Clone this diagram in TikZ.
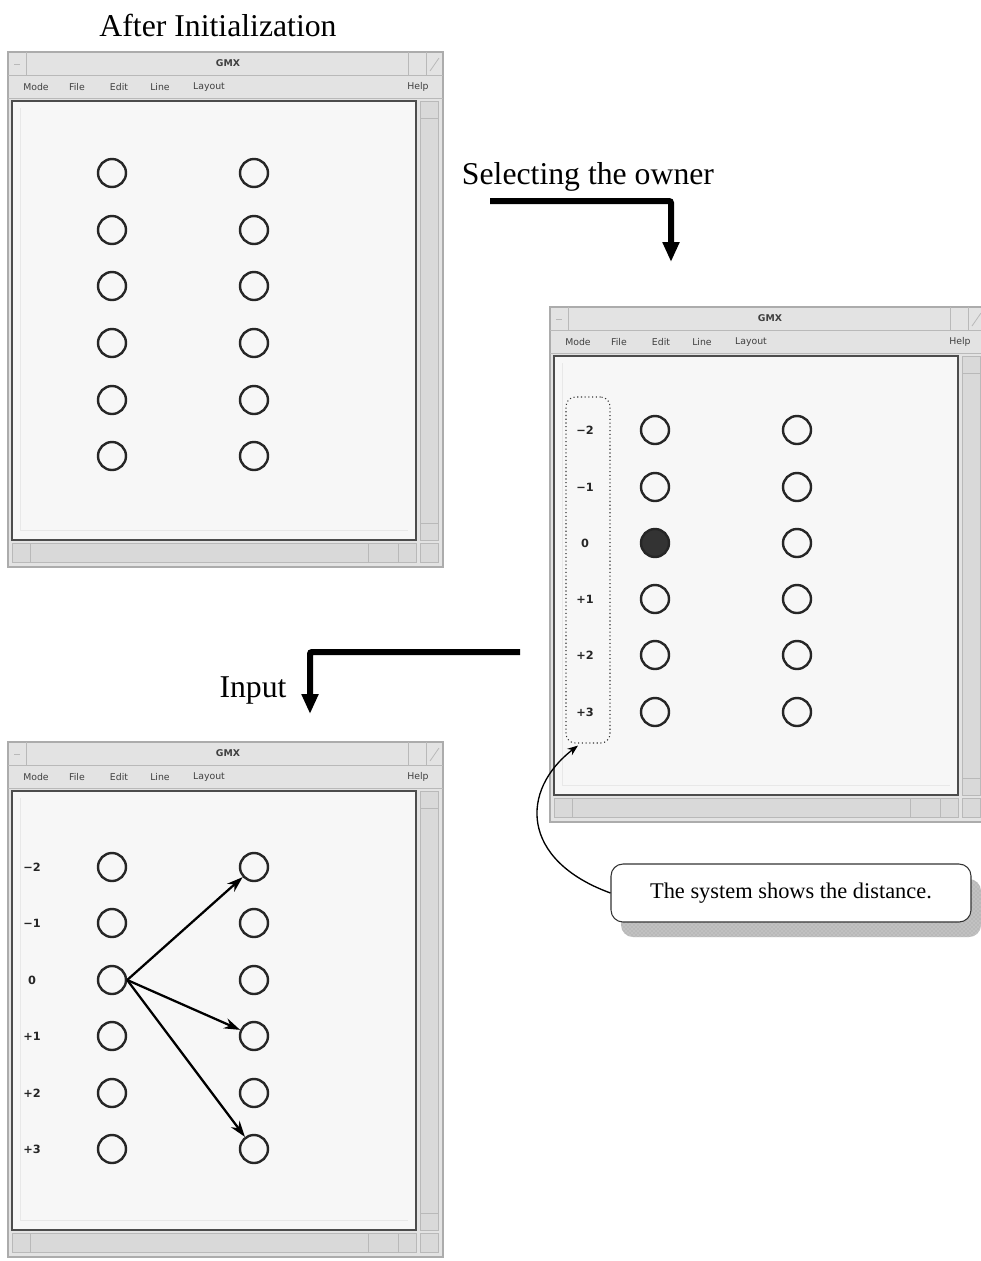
\documentclass[tikz,border=0pt]{standalone}
\usepackage{fontspec}
\setmainfont{Liberation Serif}
\newfontfamily\guifont{DejaVu Sans}
\usetikzlibrary{arrows.meta,patterns,calc}

\tikzset{
  winframe/.style={fill=gray!22, draw=gray!65, line width=0.9pt},
  winsep/.style={draw=gray!55, line width=0.6pt},
  trough/.style={fill=gray!30, draw=gray!55, line width=0.5pt},
  canvasbox/.style={fill=gray!6, draw=black!70, line width=1.6pt},
  menutext/.style={font=\guifont\fontsize{7}{8}\selectfont, text=black!75, inner sep=0pt},
  titletext/.style={font=\guifont\bfseries\fontsize{7}{8}\selectfont, text=black!75, inner sep=0pt},
  distlabel/.style={font=\guifont\bfseries\fontsize{8.5}{9}\selectfont, text=black!85, inner sep=0pt},
  ring/.style={circle, draw=black!85, line width=1.8pt, minimum size=21pt, inner sep=0pt},
  ownerring/.style={ring, fill=black!80},
  caption/.style={font=\fontsize{23.8}{26}\selectfont, inner sep=0pt},
  bigarrow/.style={line width=4.5pt, rounded corners=1.5pt,
    -{Triangle[width=12pt,length=15pt]}},
  linkarrow/.style={line width=1.7pt, -{Stealth[length=12pt,width=8pt]}},
}

% One GMX window: #1 = x of the top left corner, #2 = y of the top left corner
\newcommand\gmxwindow[2]{%
  \begin{scope}[shift={(#1,#2)}]
    \path[winframe] (0,0) rectangle (435,515);
    % title bar
    \path[winsep] (0,23) -- (435,23);
    \path[winsep] (18,0) -- (18,23);
    \path[winsep] (6,12) -- (12,12);
    \path[winsep] (400,0) -- (400,23);
    \path[winsep] (418,0) -- (418,23);
    \path[winsep] (422,19) -- (431,6);
    \node[titletext] at (220,11) {GMX};
    % menu bar
    \path[winsep] (0,46) -- (435,46);
    \node[menutext] at (28,35) {Mode};
    \node[menutext] at (69,35) {File};
    \node[menutext] at (111,35) {Edit};
    \node[menutext] at (152,35) {Line};
    \node[menutext] at (201,35) {Layout};
    \node[menutext] at (410,35) {Help};
    % scroll bars
    \path[trough] (412,49) rectangle (430,488);
    \path[trough] (412,49) rectangle (430,66);
    \path[trough] (412,471) rectangle (430,488);
    \path[trough] (4,491) rectangle (408,510);
    \path[trough] (4,491) rectangle (22,510);
    \path[trough] (360,491) rectangle (390,510);
    \path[trough] (390,491) rectangle (408,510);
    \path[trough] (412,491) rectangle (430,510);
    % drawing area
    \path[canvasbox] (4,49) rectangle (408,488);
    \draw[gray!18, line width=0.5pt] (12,56) -- (12,478) -- (400,478);
  \end{scope}}

\begin{document}
\begin{tikzpicture}[x=0.75pt, y=-0.75pt]
  \useasboundingbox (0,0) rectangle (981,1261);

  % ---------- after initialization ----------
  \node[caption] (capinit) at (218,25) {After Initialization};
  \gmxwindow{8}{52}
  \foreach \r/\y in {1/173,2/230,3/286,4/343,5/400,6/456} {
    \node[ring] (a-l\r) at (112,\y) {};
    \node[ring] (a-r\r) at (254,\y) {};
  }

  % ---------- selecting the owner ----------
  \node[caption] (capsel) at (588,177) {Selecting the owner};
  \coordinate (sel-start) at (490,201);
  \coordinate (sel-end) at (671,262);
  \draw[bigarrow] (sel-start) -| (sel-end);

  \gmxwindow{550}{307}
  \foreach \r/\y/\d in {1/430/−2,2/487/−1,3/543/0,4/599/+1,5/655/+2,6/712/+3} {
    \node[distlabel] (b-d\r) at (585,\y) {\d};
    \node[ring] (b-r\r) at (797,\y) {};
  }
  \foreach \r/\y in {1/430,2/487,4/599,5/655,6/712} {
    \node[ring] (b-l\r) at (655,\y) {};
  }
  \node[ownerring] (b-l3) at (655,543) {};
  \node[draw=black!80, dotted, line width=0.8pt, rounded corners=7pt,
        minimum width=33pt, minimum height=259.5pt] (dist) at (588,570) {};

  % callout with its shadow
  \fill[gray!55, rounded corners=9pt] (621,879) rectangle (981,937);
  \fill[pattern=crosshatch dots, pattern color=gray!25, rounded corners=9pt]
    (621,879) rectangle (981,937);
  \node[draw=black!80, fill=white, line width=0.8pt, rounded corners=9pt,
        minimum width=270pt, minimum height=43.5pt, inner sep=0pt,
        font=\fontsize{16.8}{19}\selectfont] (note) at (791,893)
        {The system shows the distance.};
  \draw[line width=1pt, -{Stealth[length=8pt,width=6pt]}]
    (note.west) .. controls (520,860) and (520,790) .. ($(dist.south)+(-10,2)$);

  % ---------- input ----------
  \node[caption] (capin) at (253,690) {Input};
  \coordinate (in-start) at (520,652);
  \coordinate (in-end) at (310,714);
  \draw[bigarrow] (in-start) -| (in-end);

  \gmxwindow{8}{742}
  \foreach \r/\y/\d in {1/867/−2,2/923/−1,3/980/0,4/1036/+1,5/1093/+2,6/1149/+3} {
    \node[distlabel] (c-d\r) at (32,\y) {\d};
    \node[ring] (c-l\r) at (112,\y) {};
    \node[ring] (c-r\r) at (254,\y) {};
  }
  \draw[linkarrow] (c-l3.east) -- (c-r1);
  \draw[linkarrow] (c-l3.east) -- (c-r4);
  \draw[linkarrow] (c-l3.east) -- (c-r6);
\end{tikzpicture}
\end{document}
